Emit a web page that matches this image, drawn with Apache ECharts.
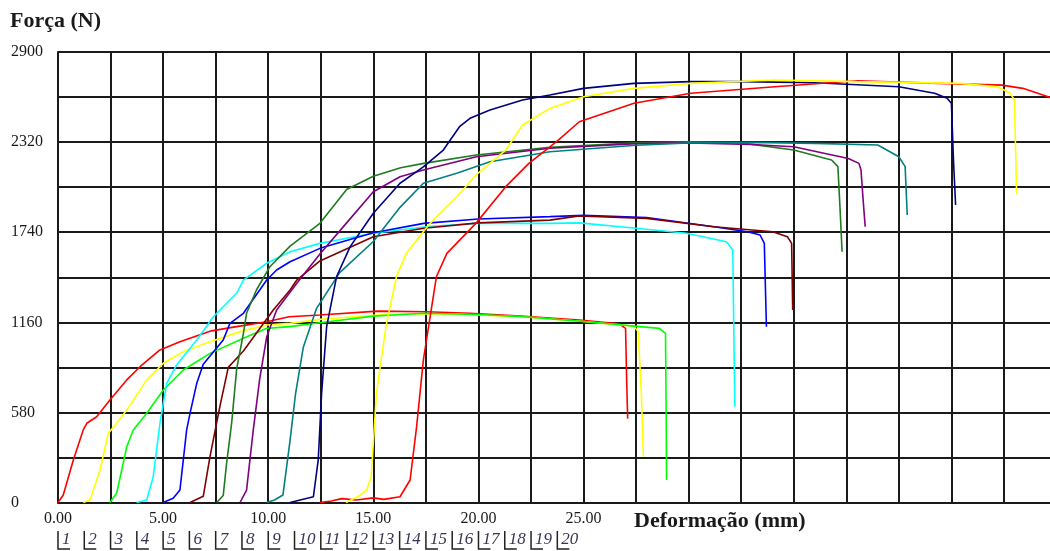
<!DOCTYPE html>
<html><head><meta charset="utf-8">
<script src="https://cdn.jsdelivr.net/npm/echarts@6/dist/echarts.min.js"></script>
<style>html,body{margin:0;padding:0;background:#fff;overflow:hidden}#c{width:1057px;height:551px}</style>
</head><body><div id="c"></div>
<script>
// Tick labels
const xTickLabels = [0, 5, 10, 15, 20, 25];
const yTickLabels = [0, 580, 1160, 1740, 2320, 2900];
const sampleLabels = ['1','2','3','4','5','6','7','8','9','10','11','12','13','14','15','16','17','18','19','20'];
const curveColors = ['#ff0000','#ffff00','#00ff00','#00ffff','#0000ff','#800000','#1e7b1e','#800080','#008080','#000080','#ff0000','#ffff00'];

// Curves: [deformação (mm), força (N)]
const s1 = [[0,0],[0.25,48],[0.73,274],[1.2,467],[1.37,510],[1.84,552],[2.47,660],[3.27,789],[3.9,874],[4.85,982],[5.8,1035],[7.3,1105],[8.5,1132],[9.93,1164],[11.0,1196],[12.46,1207],[15.2,1232],[17.5,1228],[19.6,1218],[22,1200],[24.8,1175],[26.7,1150],[27.0,1121],[27.05,800],[27.1,540]];
const s2 = [[1.2,0],[1.52,16],[2.0,209],[2.39,445],[2.79,510],[3.27,595],[4.22,789],[5.01,896],[5.96,971],[7.23,1035],[8.66,1100],[9.93,1143],[11.04,1153],[12.46,1179],[15.8,1213],[18.65,1213],[22.1,1196],[25,1165],[27.4,1135],[27.6,1100],[27.75,700],[27.85,295]];
const s3 = [[2.47,0],[2.79,59],[3.27,359],[3.58,467],[4.22,574],[5.01,724],[5.96,853],[7.23,960],[8.82,1057],[9.93,1121],[11.04,1132],[12.46,1157],[15,1200],[17.4,1218],[20,1210],[22.1,1196],[25,1165],[28.6,1121],[28.9,1089],[28.93,600],[28.95,145]];
const s4 = [[3.74,0],[4.22,16],[4.53,166],[4.85,510],[5.17,767],[5.64,885],[6.6,1046],[7.39,1196],[8.5,1347],[8.82,1432],[9.93,1540],[11.04,1614],[12.46,1668],[15,1733],[17.5,1775],[19.9,1797],[23.4,1797],[24.8,1800],[27.5,1765],[29.9,1733],[31.8,1679],[32.1,1625],[32.15,1100],[32.2,617]];
const s5 = [[5.0,0],[5.48,27],[5.8,80],[6.12,467],[6.28,574],[6.6,767],[6.91,890],[7.86,1046],[8.18,1153],[8.82,1218],[9.93,1432],[10.4,1497],[11.04,1550],[12.46,1636],[15,1737],[17.4,1797],[20,1825],[23.4,1840],[25,1848],[28,1835],[31.2,1775],[32.8,1743],[33.4,1722],[33.6,1668],[33.65,1400],[33.7,1132]];
const s6 = [[6.28,0],[6.91,40],[7.23,295],[7.7,617],[8.1,870],[8.82,975],[10.24,1239],[11.04,1368],[11.36,1432],[12.46,1555],[15,1711],[17.4,1765],[20,1800],[23.4,1818],[24.8,1845],[28,1829],[31.2,1775],[34,1743],[34.7,1711],[34.9,1668],[34.95,1239]];
const s7 = [[7.55,0],[7.86,45],[8.02,252],[8.26,510],[8.5,860],[8.82,1089],[8.97,1218],[9.44,1368],[10.08,1518],[11.04,1650],[12.46,1797],[13.73,2015],[15,2100],[16.3,2155],[17.4,2183],[19.9,2237],[23.4,2286],[27.5,2315],[30,2322],[32.5,2315],[35,2269],[36.8,2205],[37.1,2162],[37.2,1900],[37.3,1614]];
const s8 = [[8.66,0],[8.97,80],[9.29,467],[9.6,800],[9.93,1067],[10.4,1239],[11.36,1411],[12.46,1600],[13.73,1800],[15,2000],[16.27,2097],[17.38,2140],[19.9,2226],[23.4,2280],[27.5,2310],[30,2315],[33,2305],[35,2290],[37.6,2215],[38.1,2183],[38.2,2140],[38.3,1950],[38.4,1775]];
const s9 = [[9.93,0],[10.3,16],[10.7,48],[11.04,400],[11.3,700],[11.67,1000],[12.3,1250],[13.4,1480],[15,1680],[16.27,1900],[17.38,2055],[18.97,2119],[20.55,2194],[23.4,2258],[27.5,2300],[30,2315],[33,2318],[36,2312],[39,2301],[40,2226],[40.3,2162],[40.35,2000],[40.4,1851]];
const s10 = [[11.04,0],[12.15,37],[12.38,274],[12.54,703],[12.78,1132],[13.25,1453],[13.9,1647],[15,1862],[16.27,2055],[17.38,2161],[18.33,2269],[19.1,2419],[19.6,2473],[20.55,2527],[22.1,2591],[23.4,2623],[25,2666],[27.4,2698],[30.1,2709],[32.5,2709],[36,2702],[40,2676],[41.7,2634],[42.3,2602],[42.5,2570],[42.6,2200],[42.7,1915]];
const s11 = [[12.46,0],[13,10],[13.5,25],[14.2,16],[15,30],[15.5,20],[16.27,37],[16.75,145],[17.06,488],[17.38,917],[18.0,1453],[18.5,1604],[19.9,1800],[21.3,2033],[22.4,2183],[23.4,2290],[23.8,2333],[24.8,2451],[27.4,2570],[30.1,2634],[34.1,2676],[38,2715],[41.9,2698],[44.9,2687],[45.9,2666],[47.1,2612],[47.5,2590]];
const s12 = [[13.7,0],[14.3,40],[14.68,80],[14.9,166],[15.15,703],[15.6,1132],[16.1,1453],[16.57,1604],[17.7,1797],[18.97,1968],[19.9,2110],[21.3,2269],[22.1,2430],[23.4,2537],[25,2612],[27.4,2666],[30.1,2698],[34.1,2720],[38,2709],[42.9,2698],[44.7,2676],[45.3,2634],[45.5,2591],[45.55,2300],[45.6,1990]];
const curves = [s1,s2,s3,s4,s5,s6,s7,s8,s9,s10,s11,s12];

const FONT = '"Liberation Serif", "Times New Roman", serif';
const chart = echarts.init(document.getElementById('c'), null, {renderer: 'canvas'});

const graphics = [];
sampleLabels.forEach(function (lab, i) {
  const bx = 58 + i * 26.28;
  graphics.push({type: 'polyline', silent: true, shape: {points: [[bx, 531], [bx, 549], [bx + 12, 549]]}, style: {stroke: '#222', lineWidth: 1.5, fill: null}});
  graphics.push({type: 'text', silent: true, x: bx + 4, y: 540, style: {text: lab, font: 'italic 17px ' + FONT, fill: '#3a3355', textVerticalAlign: 'middle', textAlign: 'left'}});
});

chart.setOption({
  animation: false,
  backgroundColor: '#fff',
  title: [
    {text: 'Força (N)', left: 10, top: 10, padding: 0, textStyle: {fontFamily: FONT, fontSize: 22, fontWeight: 'bold', color: '#1a1a1a'}},
    {text: 'Deformação (mm)', left: 634, top: 510, padding: 0, textStyle: {fontFamily: FONT, fontSize: 22, fontWeight: 'bold', color: '#1a1a1a'}}
  ],
  grid: {left: 58, top: 52, right: 0.5, bottom: 48.5, containLabel: false},
  xAxis: {
    type: 'value', min: 0, max: 47.5, interval: 2.5,
    axisLine: {show: true, lineStyle: {color: '#1a1a1a', width: 2}},
    axisTick: {show: false},
    splitLine: {show: true, lineStyle: {color: '#1a1a1a', width: 2}},
    axisLabel: {
      margin: 8, fontFamily: FONT, fontSize: 16, color: '#1a1a1a', showMaxLabel: false,
      formatter: function (v) { return xTickLabels.indexOf(v) >= 0 ? v.toFixed(2) : ''; }
    }
  },
  yAxis: {
    type: 'value', min: 0, max: 2900, interval: 290,
    axisLine: {show: true, lineStyle: {color: '#1a1a1a', width: 2}},
    axisTick: {show: false},
    splitLine: {show: true, lineStyle: {color: '#1a1a1a', width: 2}},
    axisLabel: {
      margin: 47, align: 'left', fontFamily: FONT, fontSize: 16, color: '#1a1a1a',
      formatter: function (v) { return yTickLabels.indexOf(v) >= 0 ? String(v) : ''; }
    }
  },
  graphic: graphics,
  series: curves.map(function (d, i) {
    return {
      type: 'line', data: d, showSymbol: false, symbol: 'none', smooth: false,
      lineStyle: {color: curveColors[i], width: 1.6}, itemStyle: {color: curveColors[i]},
      z: 2 + i
    };
  })
});
</script></body></html>
